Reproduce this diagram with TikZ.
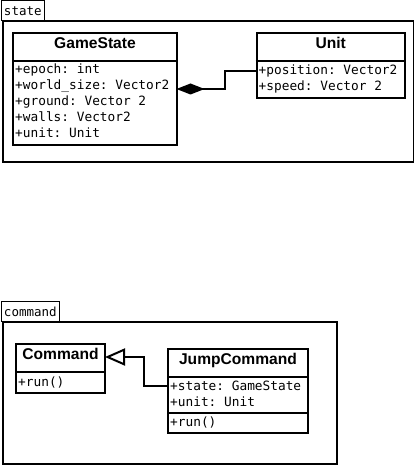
\documentclass[tikz,border=0pt]{standalone}
\usepackage{fontspec}
\setmainfont{Liberation Sans}
\setmonofont{DejaVu Sans Mono}
\usetikzlibrary{arrows.meta}
\begin{document}
\begin{tikzpicture}[x=1pt,y=-1pt,
  pkg/.style={draw, line width=2pt, inner sep=0pt, anchor=north west},
  tab/.style={draw, fill=white, line width=1pt, anchor=north west, inner xsep=3pt, inner ysep=0pt, align=left,
    font=\ttfamily\fontsize{12.5}{14}\selectfont},
  classbox/.style={draw, line width=2pt, inner sep=0pt, anchor=north west},
  sepline/.style={line width=1.2pt},
  title/.style={inner sep=0pt, text height=11.2pt, text depth=0pt, font=\bfseries\fontsize{15.6}{18}\selectfont},
  attr/.style={inner sep=0pt, anchor=base west, font=\ttfamily\fontsize{12.8}{16}\selectfont},
  assoc/.style={line width=2pt, {Diamond[length=28pt,width=11pt]}-, shorten <=-1.5pt},
  inherit/.style={line width=2pt, -{Triangle[open,length=20pt,width=17pt,fill=white]}, shorten >=-1pt}
]
\useasboundingbox (0,0) rectangle (414,465);
\fill[white] (0,0) rectangle (414,465);

% ---- package state ----
\node[pkg, minimum width=410.5pt, minimum height=141pt] (statepkg) at (2,20) {};
\node[tab, minimum width=43pt, minimum height=19.5pt, text width=37pt] (statetab) at (0.5,0.5) {state};

% GameState
\node[classbox, minimum width=164pt, minimum height=112pt] (gs) at (12,32) {};
\draw[sepline] ([yshift=-29pt]gs.north west) -- ([yshift=-29pt]gs.north east);
\node[title] (gst) at ([yshift=-10.5pt]gs.north) {GameState};
\node[attr] (ge) at (15,74) {+epoch: int};
\node[attr] (gw) at (15,90) {+world\_size: Vector2};
\node[attr] (gg) at (15,106) {+ground: Vector 2};
\node[attr] (gwl) at (15,122) {+walls: Vector2};
\node[attr] (gu) at (15,138) {+unit: Unit};

% Unit
\node[classbox, minimum width=148.5pt, minimum height=65pt] (unit) at (255.5,32) {};
\draw[sepline] ([yshift=-29pt]unit.north west) -- ([yshift=-29pt]unit.north east);
\node[title] (ut) at ([yshift=-10.5pt]unit.north) {Unit};
\node[attr] (upos) at (258.5,74.5) {+position: Vector2};
\node[attr] (usp) at (258.5,90.5) {+speed: Vector 2};

\draw[assoc] (gs.east) -- ++(47,0) |- (unit.west |- upos.center);

% ---- package command ----
\node[pkg, minimum width=334pt, minimum height=142pt] (cmdpkg) at (2,321) {};
\node[tab, minimum width=58.5pt, minimum height=20pt, text width=52.5pt] (cmdtab) at (0.5,301) {command};

% Command
\node[classbox, minimum width=89pt, minimum height=49pt] (cmd) at (15,343) {};
\draw[sepline] ([yshift=-29pt]cmd.north west) -- ([yshift=-29pt]cmd.north east);
\node[title] (cmdt) at ([yshift=-10.5pt]cmd.north) {Command};
\node[attr] (cmdrun) at (18,386) {+run()};

% JumpCommand
\node[classbox, minimum width=140pt, minimum height=84pt] (jc) at (167,348) {};
\draw[sepline] ([yshift=-29pt]jc.north west) -- ([yshift=-29pt]jc.north east);
\draw[sepline] ([yshift=-65pt]jc.north west) -- ([yshift=-65pt]jc.north east);
\node[title] (jct) at ([yshift=-10.5pt]jc.north) {JumpCommand};
\node[attr] (jstate) at (170,390.5) {+state: GameState};
\node[attr] (junit) at (170,406.5) {+unit: Unit};
\node[attr] (jrun) at (170,426.5) {+run()};

\draw[inherit] (jc.west |- jstate.center) -- ++(-23,0) |- ([yshift=-14pt]cmd.north east);
\end{tikzpicture}
\end{document}
